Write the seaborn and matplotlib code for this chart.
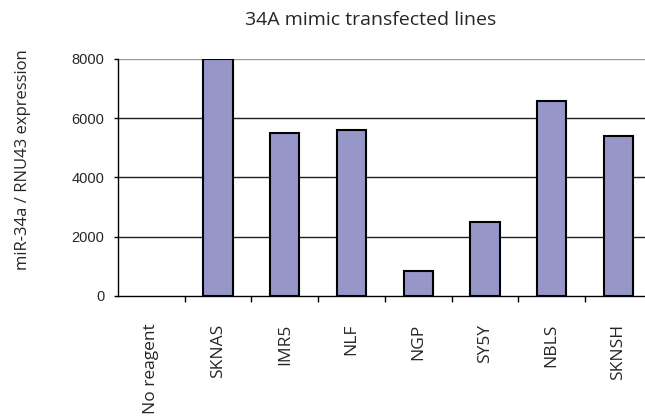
import numpy as np
import pandas as pd
import seaborn as sns
import matplotlib.pyplot as plt
from matplotlib.ticker import FixedLocator

# values
cell_lines = ['No reagent', 'SKNAS', 'IMR5', 'NLF', 'NGP', 'SY5Y', 'NBLS', 'SKNSH']
expression = [0, 8000, 5500, 5600, 850, 2480, 6570, 5400]
y_ticks = [0, 2000, 4000, 6000, 8000]

df = pd.DataFrame({'line': cell_lines, 'expr': expression})

sns.set_theme(style='white')
plt.rcParams['font.family'] = ['Open Sans', 'DejaVu Sans']

fig = plt.figure(figsize=(6.45, 4.18), dpi=100)
ax = fig.add_axes([0.183, 0.292, 0.817, 0.567])

sns.barplot(data=df, x='line', y='expr', color='#9696C8', saturation=1,
            edgecolor='black', linewidth=1.5, width=0.44, ax=ax, zorder=3)

# empty bars (zero values) are not drawn in the original
for p in ax.patches:
    if p.get_height() == 0:
        p.set_visible(False)

ax.set_xlim(-0.5, 7.4)
ax.set_ylim(0, 8000)
ax.set_yticks(y_ticks)
for v in y_ticks[1:]:
    ax.axhline(v, color='#999999' if v == 8000 else '#222222', lw=1, zorder=1)

for s in ['top', 'right']:
    ax.spines[s].set_visible(False)
for s in ['left', 'bottom']:
    ax.spines[s].set_color('black')
    ax.spines[s].set_linewidth(1)

ax.set_xlabel('')
ax.set_ylabel('')
ax.tick_params(axis='x', which='major', length=0, pad=20, labelsize=12.5, rotation=90)
ax.xaxis.set_minor_locator(FixedLocator(np.arange(0.5, 7.5, 1)))
ax.tick_params(axis='x', which='minor', bottom=True, length=4, width=1, color='black')
ax.tick_params(axis='y', left=True, length=3, width=1, color='black', pad=7, labelsize=10.5)
for lab in ax.get_yticklabels():
    lab.set_family('Liberation Sans')
for lab in ax.get_xticklabels():
    lab.set_verticalalignment('top')

fig.text(0.574, 0.952, '34A mimic transfected lines', ha='center', va='center', fontsize=14)
fig.text(0.036, 0.617, 'miR-34a / RNU43 expression', ha='center', va='center',
         rotation=90, fontsize=12)

fig.savefig('out.png', dpi=100)
